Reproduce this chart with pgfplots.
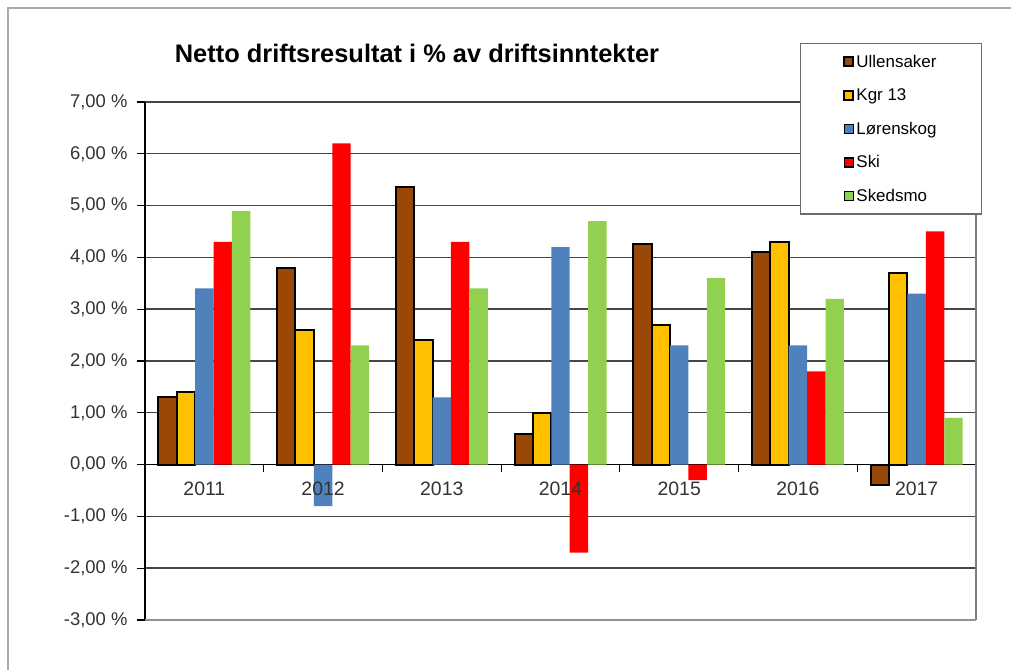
\documentclass[border=0pt]{standalone}
\usepackage{pgfplots}
\pgfplotsset{compat=1.18}
\usepackage{fontspec}
\setmainfont{Liberation Sans}
\definecolor{cU}{RGB}{153,72,8}
\definecolor{cK}{RGB}{255,192,0}
\definecolor{cL}{RGB}{79,129,189}
\definecolor{cS}{RGB}{255,0,0}
\definecolor{cSk}{RGB}{146,208,80}
\definecolor{gridc}{RGB}{70,70,70}
\definecolor{framec}{RGB}{170,170,170}
\tikzset{yrlab/.style={font=\fontsize{19.5}{21}\selectfont, text=black!80}}
\begin{document}
\begin{tikzpicture}
\path[use as bounding box] (0bp,0bp) rectangle (1011bp,670bp);
\draw[framec, line width=1.5bp] (8bp,0bp) -- (8bp,662bp) -- (1011bp,662bp);
\begin{axis}[
  at={(145bp,50bp)}, anchor=south west,
  scale only axis, width=831bp, height=518bp,
  ybar=0pt, bar width=18.4bp,
  xmin=-0.5, xmax=6.5, ymin=-3, ymax=7,
  axis x line*=middle, axis y line*=left,
  axis line style={black, line width=1.5bp, -},
  xtick={0,1,2,3,4,5,6},
  xticklabels={},
  minor xtick={0.5,1.5,2.5,3.5,4.5,5.5,6.5},
  major x tick style={draw=none},
  minor tick length=7bp, major tick length=8bp,
  tick align=outside,
  tick style={black, line width=1.2bp},
  ytick={-3,-2,-1,0,1,2,3,4,5,6,7},
  yticklabels={{-3,00 \%},{-2,00 \%},{-1,00 \%},{0,00 \%},{1,00 \%},{2,00 \%},{3,00 \%},{4,00 \%},{5,00 \%},{6,00 \%},{7,00 \%}},
  ymajorgrids, grid style={gridc, line width=1.4bp},
  yticklabel style={font=\fontsize{18.5}{20}\selectfont, text=black!80, xshift=-6bp},
  clip=false,
  legend style={at={(0.788,1.1137)}, anchor=north west, draw=gridc!80, line width=1.3bp, fill=white,
    font=\fontsize{17}{19}\selectfont, inner xsep=43bp, inner ysep=9bp, row sep=16bp},
  legend cell align=left,
  legend image code/.code={\draw[#1] (0bp,-4.5bp) rectangle (9bp,4.5bp);},
]
\addplot[fill=cU, draw=black, line width=2bp] coordinates {(0,1.3) (1,3.8) (2,5.35) (3,0.6) (4,4.25) (5,4.1) (6,-0.4)};
\addplot[fill=cK, draw=black, line width=2bp] coordinates {(0,1.4) (1,2.6) (2,2.4) (3,1.0) (4,2.7) (5,4.3) (6,3.7)};
\addplot[fill=cL, draw=none] coordinates {(0,3.4) (1,-0.8) (2,1.3) (3,4.2) (4,2.3) (5,2.3) (6,3.3)};
\addplot[fill=cS, draw=none] coordinates {(0,4.3) (1,6.2) (2,4.3) (3,-1.7) (4,-0.3) (5,1.8) (6,4.5)};
\addplot[fill=cSk, draw=none] coordinates {(0,4.9) (1,2.3) (2,3.4) (3,4.7) (4,3.6) (5,3.2) (6,0.9)};
\legend{Ullensaker,Kgr 13,Lørenskog,Ski,Skedsmo}
\draw[gridc!70, line width=1.5bp] (rel axis cs:1,0) -- (rel axis cs:1,1);
\draw[gridc!60, line width=2.5bp] (rel axis cs:0,0) -- (rel axis cs:1,0);
\node[yrlab] at (axis cs:0,-0.47) {2011};
\node[yrlab] at (axis cs:1,-0.47) {2012};
\node[yrlab] at (axis cs:2,-0.47) {2013};
\node[yrlab] at (axis cs:3,-0.47) {2014};
\node[yrlab] at (axis cs:4,-0.47) {2015};
\node[yrlab] at (axis cs:5,-0.47) {2016};
\node[yrlab] at (axis cs:6,-0.47) {2017};
\end{axis}
\node[font=\bfseries\fontsize{25.5}{28}\selectfont] at (417bp,617bp) {Netto driftsresultat i \% av driftsinntekter};
\end{tikzpicture}
\end{document}
